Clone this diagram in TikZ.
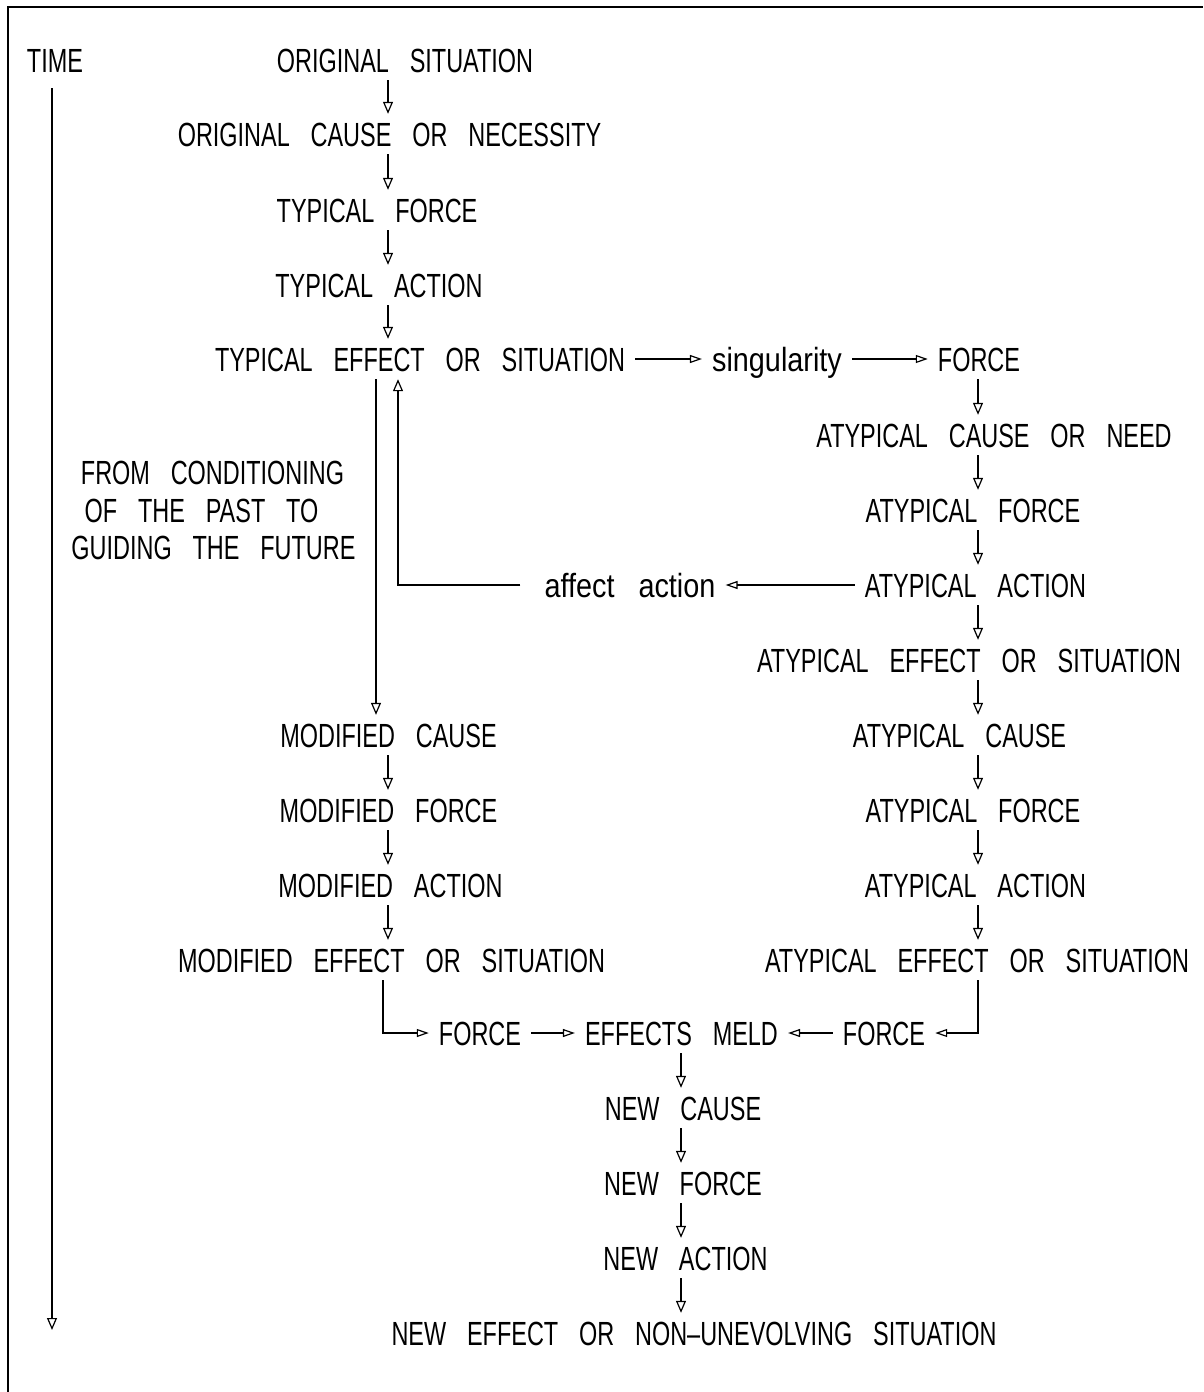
\documentclass[tikz,border=0pt]{standalone}
\usepackage{fontspec}
\setmainfont{Liberation Sans}[FakeStretch=0.70,WordSpace=3.2]
\newfontfamily\lcfont{Liberation Sans}[FakeStretch=0.86,WordSpace=3.0]
\usetikzlibrary{arrows.meta}
\tikzset{
  lbl/.style={inner xsep=10pt, inner ysep=8pt, text height=24pt, text depth=0pt,
    font=\fontsize{33.5}{40}\selectfont},
  lclbl/.style={lbl, font=\lcfont\fontsize{33.5}{40}\selectfont},
  arr/.style={-{Triangle[open,length=12pt,width=10pt]}, line width=1.2pt},
  arrh/.style={-{Triangle[open,length=12pt,width=8pt]}, line width=1.2pt},
  ln/.style={line width=1.2pt}
}
\begin{document}
\begin{tikzpicture}[x=1pt,y=-1pt]
\useasboundingbox (0,0) rectangle (1203,1392);
\draw[ln] (8,1392) -- (8,7) -- (1203,7);

% column coordinates
\coordinate (cL) at (388,0);
\coordinate (cR) at (978,0);
\coordinate (cN) at (681,0);
\coordinate (cDn) at (376,0);
\coordinate (cUp) at (398,0);
\coordinate (cBL) at (383,0);

% time axis
\node[lbl] (time) at (55,60) {TIME};
\coordinate (tTop) at (52,88);
\coordinate (tBot) at (52,1330);
\draw[arr] (tTop) -- (tBot);

% main column
\node[lbl] (os)  at (405,60)  {ORIGINAL SITUATION};
\node[lbl] (oc)  at (389.5,134) {ORIGINAL CAUSE OR NECESSITY};
\node[lbl] (tf)  at (377,210) {TYPICAL FORCE};
\node[lbl] (ta)  at (379,285) {TYPICAL ACTION};
\node[lbl] (te)  at (420,359) {TYPICAL EFFECT OR SITUATION};
\node[lclbl] (sg)  at (777,359) {singularity};
\node[lbl] (fr)  at (979,359) {FORCE};

\draw[arr] (os.south -| cL) -- (oc.north -| cL);
\draw[arr] (oc.south -| cL) -- (tf.north -| cL);
\draw[arr] (tf.south -| cL) -- (ta.north -| cL);
\draw[arr] (ta.south -| cL) -- (te.north -| cL);
\draw[arrh] (te.east) -- (sg.west);
\draw[arrh] (sg.east) -- (fr.west);

% right column
\node[lbl] (acn) at (994,435) {ATYPICAL CAUSE OR NEED};
\node[lbl] (af1) at (973,510) {ATYPICAL FORCE};
\node[lbl] (aa1) at (975.5,585) {ATYPICAL ACTION};
\node[lbl] (ae1) at (969,660) {ATYPICAL EFFECT OR SITUATION};
\node[lbl] (ac)  at (959.5,735) {ATYPICAL CAUSE};
\node[lbl] (af2) at (973,810) {ATYPICAL FORCE};
\node[lbl] (aa2) at (975.5,885) {ATYPICAL ACTION};
\node[lbl] (ae2) at (977,960) {ATYPICAL EFFECT OR SITUATION};

\draw[arr] (fr.south -| cR) -- (acn.north -| cR);
\draw[arr] (acn.south -| cR) -- (af1.north -| cR);
\draw[arr] (af1.south -| cR) -- (aa1.north -| cR);
\draw[arr] (aa1.south -| cR) -- (ae1.north -| cR);
\draw[arr] (ae1.south -| cR) -- (ac.north -| cR);
\draw[arr] (ac.south -| cR) -- (af2.north -| cR);
\draw[arr] (af2.south -| cR) -- (aa2.north -| cR);
\draw[arr] (aa2.south -| cR) -- (ae2.north -| cR);

% feedback
\node[lclbl] (aff) at (630,585) {affect action};
\draw[arrh] (aa1.west) -- (aff.east);
\draw[arr] ([xshift=-14pt]aff.west) -- (aff.west -| cUp) -- (te.south -| cUp);

% side text
\node[lbl] (s1) at (212.5,472) {FROM CONDITIONING};
\node[lbl] (s2) at (201.5,510) {OF THE PAST TO};
\node[lbl] (s3) at (213.5,547) {GUIDING THE FUTURE};

% modified column
\node[lbl] (mc) at (388.5,735) {MODIFIED CAUSE};
\node[lbl] (mf) at (388.5,810) {MODIFIED FORCE};
\node[lbl] (ma) at (390.5,885) {MODIFIED ACTION};
\node[lbl] (me) at (391.5,960) {MODIFIED EFFECT OR SITUATION};

\draw[arr] (te.south -| cDn) -- (mc.north -| cDn);
\draw[arr] (mc.south -| cL) -- (mf.north -| cL);
\draw[arr] (mf.south -| cL) -- (ma.north -| cL);
\draw[arr] (ma.south -| cL) -- (me.north -| cL);

% meld row
\node[lbl] (f1) at (480,1033) {FORCE};
\node[lbl] (em) at (681.5,1033) {EFFECTS MELD};
\node[lbl] (f2) at (884,1033) {FORCE};

\draw[arrh] (me.south -| cBL) |- (f1.west);
\draw[arrh] (f1.east) -- (em.west);
\draw[arrh] (f2.west) -- (em.east);
\draw[arrh] (ae2.south -| cR) |- (f2.east);

% new column
\node[lbl] (nc) at (683,1108) {NEW CAUSE};
\node[lbl] (nf) at (683,1183) {NEW FORCE};
\node[lbl] (na) at (685.5,1258) {NEW ACTION};
\node[lbl] (ne) at (694,1333) {NEW EFFECT OR NON--UNEVOLVING SITUATION};

\draw[arr] (em.south -| cN) -- (nc.north -| cN);
\draw[arr] (nc.south -| cN) -- (nf.north -| cN);
\draw[arr] (nf.south -| cN) -- (na.north -| cN);
\draw[arr] (na.south -| cN) -- (ne.north -| cN);
\end{tikzpicture}
\end{document}
